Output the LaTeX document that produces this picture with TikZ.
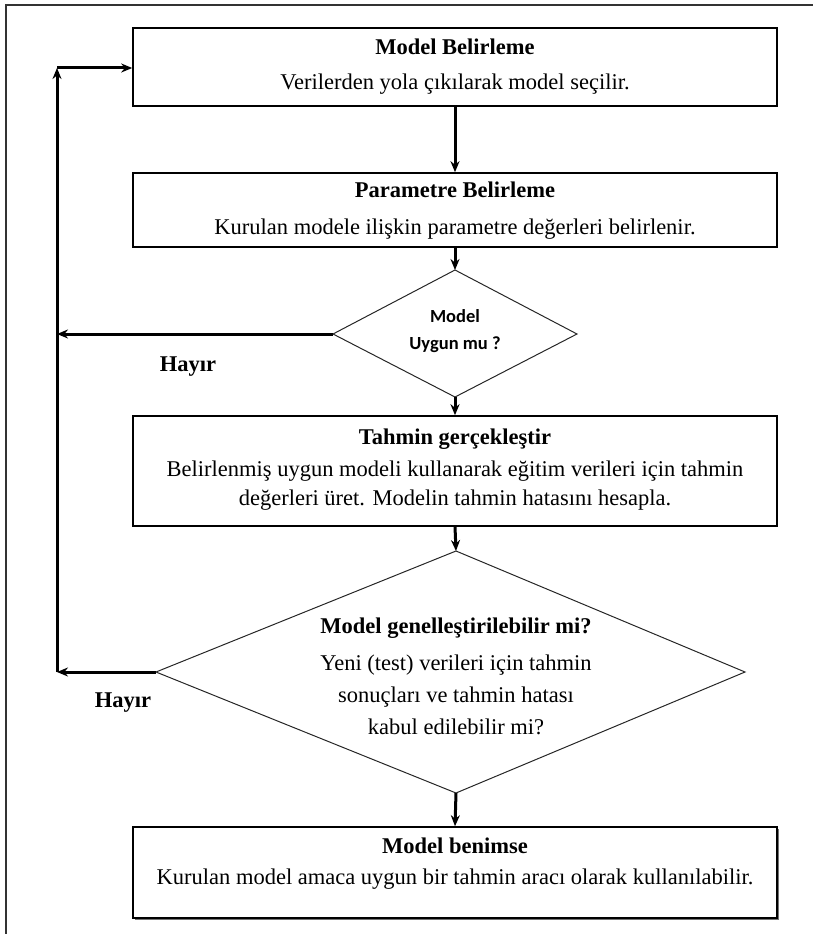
\documentclass[tikz,border=0pt]{standalone}
\usepackage{fontspec}
\setmainfont{Liberation Serif}
\newfontfamily\calib{Carlito}
\usetikzlibrary{arrows.meta}

\tikzset{
  stepbox/.style={draw=black, line width=1.6pt, minimum width=644pt, inner sep=0pt},
  decline/.style={draw=black!85, line width=1pt},
  flow/.style={line width=3pt, -{Stealth[length=11pt,width=9pt]}},
  ttl/.style={font=\fontsize{22.5}{26}\selectfont\bfseries, text height=15pt, text depth=5pt, inner sep=0pt},
  body/.style={font=\fontsize{22.5}{26}\selectfont, text height=15pt, text depth=5pt, inner sep=0pt},
  qtext/.style={font=\calib\fontsize{18.5}{22}\selectfont\bfseries, text height=13pt, text depth=4pt, inner sep=0pt},
}

\begin{document}
\begin{tikzpicture}[x=1pt, y=-1pt]
  \useasboundingbox (0,0) rectangle (813,934);

  % page frame (top and left edges only)
  \draw[line width=1.4pt, black!80] (813,5) -- (6,5) -- (6,934);

  % process boxes
  \node[stepbox, minimum height=78pt]  (b1) at (455,67) {};
  \node[stepbox, minimum height=74pt]  (b2) at (455,210) {};
  \node[stepbox, minimum height=110pt] (b3) at (455,471) {};
  \fill[black!55] (134.5,829) rectangle (779,919.5);
  \node[stepbox, fill=white, minimum height=91pt] (b5) at (455,872.5) {};

  % decision 1
  \coordinate (d1l) at (333,334);
  \coordinate (d1r) at (577,334);
  \coordinate (d1t) at (455,270);
  \coordinate (d1b) at (455,397);
  \draw[decline] (d1l) -- (d1t) -- (d1r) -- (d1b) -- cycle;

  % decision 2
  \coordinate (d2l) at (156,672);
  \coordinate (d2r) at (745,672);
  \coordinate (d2t) at (456,551);
  \coordinate (d2b) at (456,793);
  \draw[decline] (d2l) -- (d2t) -- (d2r) -- (d2b) -- cycle;

  % texts
  \node[ttl]  (t1) at (455,50) {Model Belirleme};
  \node[body] (l1) at (455,84) {Verilerden yola çıkılarak model seçilir.};
  \node[ttl]  (t2) at (455,192) {Parametre Belirleme};
  \node[body] (l2) at (455,229) {Kurulan modele ilişkin parametre değerleri belirlenir.};
  \node[qtext] (q1a) at (455,318) {Model};
  \node[qtext] (q1b) at (455,345) {Uygun mu ?};
  \node[ttl]  (h1) at (188,366) {Hayır};
  \node[ttl]  (t3) at (455,439) {Tahmin gerçekleştir};
  \node[body] (l3a) at (455,471) {Belirlenmiş uygun modeli kullanarak eğitim verileri için tahmin};
  \node[body] (l3b) at (455,500) {değerleri üret. Modelin tahmin hatasını hesapla.};
  \node[ttl]  (t4) at (456,628) {Model genelleştirilebilir mi?};
  \node[body] (l4a) at (456,665) {Yeni (test) verileri için tahmin};
  \node[body] (l4b) at (456,697) {sonuçları ve tahmin hatası};
  \node[body] (l4c) at (456,729) {kabul edilebilir mi?};
  \node[ttl]  (h2) at (123,702) {Hayır};
  \node[ttl]  (t5) at (455,848) {Model benimse};
  \node[body] (l5) at (455,879) {Kurulan model amaca uygun bir tahmin aracı olarak kullanılabilir.};

  % main flow
  \draw[flow] (b1.south) -- (b2.north);
  \draw[flow] (b2.south) -- (d1t);
  \draw[flow] (d1b) -- (b3.north);
  \draw[flow] (b3.south) -- (d2t);
  \draw[flow] (d2b) -- (b5.north);

  % feedback loop
  \coordinate (c1) at (57,334);
  \coordinate (c2) at (57,672);
  \coordinate (c0) at (57,68);
  \draw[flow] (d1l) -- (c1);
  \draw[flow] (d2l) -- (c2);
  \draw[flow] (c2) -- (c0);
  \draw[flow] (c0) -- (b1.west |- c0);
\end{tikzpicture}
\end{document}
